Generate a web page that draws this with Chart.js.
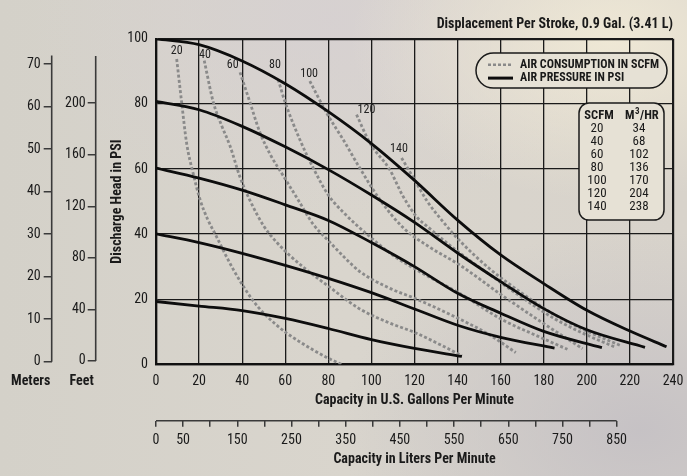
<!DOCTYPE html>
<html><head><meta charset="utf-8">
<script src="https://cdn.jsdelivr.net/npm/chart.js@4.4.1/dist/chart.umd.min.js"></script>
<style>
html,body{margin:0;padding:0;}
body{width:687px;height:476px;overflow:hidden;
background:
 radial-gradient(ellipse 260px 160px at 610px 40px, rgba(240,233,214,0.95), rgba(240,233,214,0) 100%),
 radial-gradient(ellipse 300px 200px at 640px 430px, rgba(196,192,196,0.9), rgba(196,192,196,0) 100%),
 radial-gradient(ellipse 300px 200px at 330px 20px, rgba(214,208,210,0.8), rgba(214,208,210,0) 100%),
 linear-gradient(90deg,#d4d1c9 0%,#d9d5cd 50%,#d8d3cb 100%);}
#wrap{position:relative;width:687px;height:476px;}
</style></head>
<body><div id="wrap"><canvas id="c" width="687" height="476"></canvas></div>
<script>
// ---------- data ----------
const psi100 = [[0,100],[20,98.2],[40,93.2],[60,86.2],[80,77.6],[100,67.8],[120,56.5],[140,44.3],[160,33.6],[180,24.8],[200,16.6],[220,10.2],[237,5.4]];
const psi80  = [[0,80.8],[20,78.2],[40,73.1],[60,66.8],[80,59.8],[100,52],[120,43.6],[140,34.2],[160,25.4],[180,17.1],[200,10.6],[227,5.2]];
const psi60  = [[0,60.3],[20,57.2],[40,53.5],[60,49],[80,44.2],[100,37.4],[120,30],[140,21.8],[160,15.7],[180,10.1],[207,5.1]];
const psi40  = [[0,40.1],[20,37.4],[40,34.1],[60,30.4],[80,26.4],[100,22],[120,17],[140,12],[160,8.3],[185,5]];
const psi20  = [[0,19.3],[20,17.9],[40,16.5],[60,14.1],[80,11],[100,7.6],[120,4.9],[142,2.4]];

const scfm20  = [[9.6,93.8],[11.9,80.5],[14.2,68],[17.3,58.5],[20.5,50.5],[24,44.5],[27.5,40],[32,34],[36,29],[40.5,24],[45,19.6],[50,15.7],[55,12.6],[60.6,9.6],[67,6.8],[73,4.4],[79,2.2],[86,0]];
const scfm40  = [[22.4,93.3],[26.6,80.5],[30.5,73.3],[34.3,67.2],[39,57.5],[43.5,50.5],[50,42.5],[56,37.5],[62,33.5],[70,29],[80,24],[94.6,17],[108,12.8],[120,9.8],[132,6],[142,2.6]];
const scfm60  = [[39,89.7],[43.6,80.5],[48.2,71.3],[53,64.5],[59,58],[66,50.5],[73,43],[80,38],[88,32.5],[94.6,28.5],[108,23.5],[120,20.3],[140,14.2],[155,9],[167,3.6]];
const scfm80  = [[56.7,87.5],[59.8,80.8],[66.8,69],[73,60.3],[80,52],[88,46],[97,40.5],[110,33.5],[125,27.5],[141,21.8],[161,13.6],[176,9],[191,4.6]];
const scfm100 = [[71.4,87],[79.2,77.2],[86.9,69],[94.6,60.3],[103.9,50.6],[114.7,42],[127,36],[141,30.5],[160,21.5],[180,12.5],[198,4.8]];
const scfm120 = [[93.1,76.7],[99.3,68],[108.5,59.8],[114.7,51.6],[120.9,45.4],[126,42.3],[139,35.2],[155,27.5],[170,20.5],[185,14],[200,9],[213,5.3]];
const scfm140 = [[114,63.4],[120,56.7],[126,50],[133,44],[140.2,38.5],[154.6,29.5],[170,21.8],[185,15.2],[200,10.2],[215.5,5.8]];

const scfmLevels  = [20,40,60,80,100,120,140];
const m3hrLevels  = [34,68,102,136,170,204,238];
const scfmLabelAt = [[9.6,96.4],[22.7,94.9],[35.6,92.1],[55.2,92.1],[71.1,89.2],[97.7,78],[112.8,66.2]];

const meterTicks = [0,10,20,30,40,50,60,70];
const feetTicks  = [0,40,80,120,160,200];
const literTicks = [0,50,100,150,200,250,300,350,400,450,500,550,600,650,700,750,800,850];
const literLabels = [0,50,150,250,350,450,550,650,750,850];

// ---------- styling ----------
const NARROW = '"Roboto Condensed","Open Sans Condensed","Liberation Sans",sans-serif';
const INK = '#1a1a1a';
Chart.defaults.font.family = NARROW;
Chart.defaults.color = INK;

const solid = (data) => ({data: data.map(([x,y])=>({x,y})), showLine:true, pointRadius:0, borderColor:'#0d0d0d', borderWidth:2.8, cubicInterpolationMode:'monotone', order:0, borderCapStyle:'butt'});
const dashed = (data) => ({data: data.map(([x,y])=>({x,y})), showLine:true, pointRadius:0, borderColor:'#8a8a8a', borderWidth:2.8, borderDash:[3,2.2], cubicInterpolationMode:'monotone', order:1, borderCapStyle:'butt'});

function roundRect(ctx,x,y,w,h,r){ctx.beginPath();ctx.moveTo(x+r,y);ctx.lineTo(x+w-r,y);ctx.arcTo(x+w,y,x+w,y+r,r);ctx.lineTo(x+w,y+h-r);ctx.arcTo(x+w,y+h,x+w-r,y+h,r);ctx.lineTo(x+r,y+h);ctx.arcTo(x,y+h,x,y+h-r,r);ctx.lineTo(x,y+r);ctx.arcTo(x,y,x+r,y,r);ctx.closePath();}

const decor = {
  id:'decor',
  afterDatasetsDraw(chart){
    const {ctx, scales:{x,y}} = chart;
    ctx.save();
    ctx.font = '12px '+NARROW; ctx.fillStyle = '#222'; ctx.textAlign='center'; ctx.textBaseline='middle';
    scfmLevels.forEach((lvl,i)=>{const [gx,py]=scfmLabelAt[i]; ctx.fillText(String(lvl), x.getPixelForValue(gx), y.getPixelForValue(py));});
    ctx.restore();
  },
  afterDraw(chart){
    const {ctx, chartArea:ca, scales} = chart;
    ctx.save();
    ctx.strokeStyle = '#3a3a3a'; ctx.lineWidth = 1.6;
    const m = scales.meters, f = scales.feet, l = scales.liters;
    ctx.beginPath(); ctx.moveTo(m.right, m.getPixelForValue(0)); ctx.lineTo(m.right, m.getPixelForValue(72)); ctx.stroke();
    ctx.beginPath(); ctx.moveTo(f.right, f.getPixelForValue(0)); ctx.lineTo(f.right, f.getPixelForValue(236.5)); ctx.stroke();
    ctx.beginPath(); ctx.moveTo(l.getPixelForValue(0), l.top); ctx.lineTo(l.getPixelForValue(850), l.top); ctx.stroke();
    ctx.fillStyle = INK; ctx.font = 'bold 14px '+NARROW; ctx.textAlign='center'; ctx.textBaseline='middle';
    ctx.fillText('Meters', m.right-21, ca.bottom+17.5);
    ctx.fillText('Feet', f.right-14, ca.bottom+17.5);
    // legend pill
    const lx = ca.right-197, ly = ca.top+14.3, lw = 191, lh = 35;
    roundRect(ctx,lx,ly,lw,lh,17.5); ctx.fillStyle='#e6e1d5'; ctx.fill(); ctx.lineWidth=1.5; ctx.strokeStyle='#1a1a1a'; ctx.stroke();
    ctx.beginPath(); ctx.setLineDash([3,2]); ctx.strokeStyle='#8a8a8a'; ctx.lineWidth=2.5; ctx.moveTo(lx+12, ly+11.7); ctx.lineTo(lx+37, ly+11.7); ctx.stroke();
    ctx.setLineDash([]); ctx.beginPath(); ctx.strokeStyle='#0d0d0d'; ctx.lineWidth=3; ctx.moveTo(lx+12, ly+25); ctx.lineTo(lx+37, ly+25); ctx.stroke();
    ctx.fillStyle=INK; ctx.font='bold 12px '+NARROW; ctx.textAlign='left';
    ctx.fillText('AIR CONSUMPTION IN SCFM', lx+44, ly+12);
    ctx.fillText('AIR PRESSURE IN PSI', lx+44, ly+25);
    // table
    const tx = ca.right-94, ty = ca.top+64.3, tw = 85, th = 117;
    roundRect(ctx,tx,ty,tw,th,10); ctx.fillStyle='#e6e1d5'; ctx.fill(); ctx.lineWidth=1.5; ctx.strokeStyle='#1a1a1a'; ctx.stroke();
    ctx.fillStyle=INK; ctx.textAlign='center';
    ctx.font='bold 12.5px '+NARROW;
    ctx.fillText('SCFM', tx+20, ty+13);
    ctx.textAlign='left';
    const hx = tx+46;
    ctx.fillText('M', hx, ty+13);
    const mw = ctx.measureText('M').width;
    ctx.font='bold 9px '+NARROW; ctx.fillText('3', hx+mw+0.5, ty+9);
    const tw3 = ctx.measureText('3').width;
    ctx.font='bold 12.5px '+NARROW; ctx.fillText('/HR', hx+mw+tw3+1, ty+13);
    ctx.textAlign='center';
    ctx.font='13px '+NARROW;
    scfmLevels.forEach((v,i)=>{ const yy = ty+25.5+i*13; ctx.fillText(String(v), tx+18, yy); ctx.fillText(String(m3hrLevels[i]), tx+60, yy); });
    ctx.restore();
  }
};

const edgeWidth = (max) => (c) => (c.tick && (c.tick.value===0 || c.tick.value===max)) ? 2.2 : 1.3;
const noPadX = (h) => (s)=>{ s.height=h; s.paddingLeft=0; s.paddingRight=0; };
const noPadY = (w) => (s)=>{ s.width=w; s.paddingTop=0; s.paddingBottom=0; };

new Chart(document.getElementById('c'), {
  type:'scatter',
  data:{datasets:[
    solid(psi100), solid(psi80), solid(psi60), solid(psi40), solid(psi20),
    dashed(scfm20), dashed(scfm40), dashed(scfm60), dashed(scfm80), dashed(scfm100), dashed(scfm120), dashed(scfm140)
  ]},
  options:{
    responsive:false, animation:false, devicePixelRatio:1,
    layout:{padding:{top:10,right:14,bottom:5.3,left:0}},
    plugins:{
      legend:{display:false}, tooltip:{enabled:false},
      title:{display:true, text:'Displacement Per Stroke, 0.9 Gal. (3.41 L)', align:'end', color:INK, font:{size:14, weight:'bold'}, padding:{top:6,bottom:6}}
    },
    scales:{
      x:{type:'linear', position:'bottom', weight:0, min:0, max:240,
         ticks:{stepSize:20, font:{size:14}, color:INK, padding:9, maxRotation:0},
         grid:{color:'#1a1a1a', lineWidth:edgeWidth(240), drawTicks:false},
         border:{display:true, color:'#111', width:2.2},
         title:{display:true, text:'Capacity in U.S. Gallons Per Minute', font:{size:14, weight:'bold'}, color:INK, padding:{top:0,bottom:12.3}},
         afterFit:noPadX(56.4)},
      liters:{type:'linear', position:'bottom', weight:1, min:0, max:954,
         afterBuildTicks:(s)=>{s.ticks = literTicks.map(v=>({value:v}));},
         ticks:{autoSkip:false, maxRotation:0, font:{size:14}, color:INK, padding:5, callback:(v)=> literLabels.includes(v)? String(v) : ''},
         grid:{drawOnChartArea:false, drawTicks:true, tickLength:6, color:'#3a3a3a', lineWidth:1.5},
         border:{display:false},
         title:{display:true, text:'Capacity in Liters Per Minute', font:{size:14, weight:'bold'}, color:INK, padding:{top:0,bottom:3.3}},
         afterFit:noPadX(50)},
      y:{type:'linear', position:'left', weight:0, min:0, max:100,
         ticks:{stepSize:20, font:{size:14}, color:INK, padding:8},
         grid:{color:'#1a1a1a', lineWidth:edgeWidth(100), drawTicks:false},
         border:{display:true, color:'#111', width:2.2},
         title:{display:true, text:'Discharge Head in PSI', font:{size:14, weight:'bold'}, color:INK, padding:{top:12.9,bottom:0}},
         afterFit:noPadY(60.3)},
      feet:{type:'linear', position:'left', weight:1, min:-2.56, max:249.9,
         afterBuildTicks:(s)=>{s.ticks = feetTicks.map(v=>({value:v}));},
         ticks:{autoSkip:false, font:{size:14}, color:INK, padding:2},
         grid:{drawOnChartArea:false, drawTicks:true, tickLength:8, color:'#3a3a3a', lineWidth:1.5},
         border:{display:false},
         afterFit:noPadY(44)},
      meters:{type:'linear', position:'left', weight:2, min:-0.61, max:75.95,
         afterBuildTicks:(s)=>{s.ticks = meterTicks.map(v=>({value:v}));},
         ticks:{autoSkip:false, font:{size:14}, color:INK, padding:3},
         grid:{drawOnChartArea:false, drawTicks:true, tickLength:8, color:'#3a3a3a', lineWidth:1.5},
         border:{display:false},
         afterFit:noPadY(51.7)}
    }
  },
  plugins:[decor]
});
</script>
</body></html>
